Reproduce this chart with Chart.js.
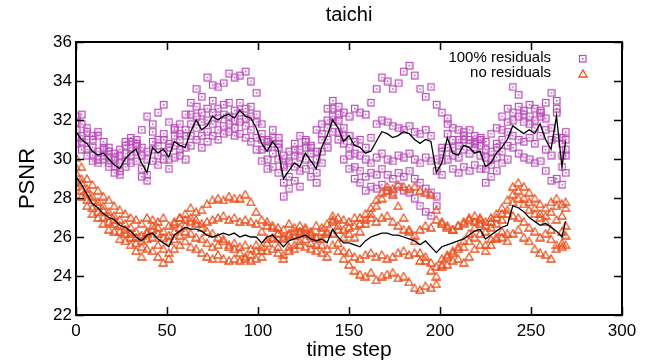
<!DOCTYPE html>
<html>
<head>
<meta charset="utf-8">
<script src="https://cdn.jsdelivr.net/npm/chart.js@4.4.0/dist/chart.umd.min.js"></script>
<style>
  html, body { margin: 0; padding: 0; background: #fff; }
  #wrap { width: 649px; height: 363px; }
</style>
</head>
<body>
<div id="wrap"><canvas id="psnrChart" width="649" height="363"></canvas></div>
<script>
// time steps (every 3rd frame, plus the last one)
const timeSteps = [
  0, 3, 6, 9, 12, 15, 18, 21, 24, 27,
  30, 33, 36, 39, 42, 45, 48, 51, 54, 57,
  60, 63, 66, 69, 72, 75, 78, 81, 84, 87,
  90, 93, 96, 99, 102, 105, 108, 111, 114, 117,
  120, 123, 126, 129, 132, 135, 138, 141, 144, 147,
  150, 153, 156, 159, 162, 165, 168, 171, 174, 177,
  180, 183, 186, 189, 192, 195, 198, 201, 204, 207,
  210, 213, 216, 219, 222, 225, 228, 231, 234, 237,
  240, 243, 246, 249, 252, 255, 258, 261, 264, 267, 269
];

// 100% residuals runs
const resA = [
  31.9, 32.3, 31.6, 31.2, 31.4, 30.9, 30.6, 30.3, 30.5, 30.9,
  31.1, 31.0, 31.5, 32.2, 31.8, 32.4, 32.8, 31.9, 31.5, 31.8,
  32.3, 32.9, 33.6, 33.2, 34.2, 33.8, 33.7, 33.9, 34.4, 34.2,
  34.3, 34.5, 34.0, 33.4, 31.8, 31.0, 30.8, 30.6, 29.7, 29.8,
  30.5, 31.2, 30.9, 30.7, 31.5, 31.8, 32.6, 33.0, 32.7, 32.4,
  32.2, 32.6, 32.4, 32.3, 32.9, 33.6, 34.2, 34.0, 33.6, 33.9,
  34.5, 34.8, 34.3, 33.6, 33.2, 33.7, 32.8, 32.4, 32.1, 31.6,
  31.5, 31.2, 31.0, 30.8, 31.1, 30.9, 31.3, 31.6, 32.2, 32.6,
  33.7, 33.3, 32.5, 32.8, 32.6, 32.4, 32.9, 33.4, 32.6, 31.1, 31.4
];
const resB = [
  31.5, 31.2, 31.0, 30.6, 30.4, 30.5, 30.1, 30.0, 29.8, 30.3,
  30.6, 30.8, 30.2, 30.0, 30.9, 30.7, 31.0, 30.6, 31.2, 31.0,
  31.2, 31.8, 32.2, 31.9, 32.0, 32.4, 32.1, 32.3, 32.2, 32.0,
  32.4, 32.1, 32.2, 31.9, 31.0, 30.6, 31.1, 30.8, 29.6, 29.9,
  30.2, 30.1, 30.6, 30.3, 30.0, 31.0, 31.6, 32.2, 32.0, 31.2,
  31.2, 30.9, 31.0, 30.6, 31.1, 31.8, 32.0, 31.9, 31.7, 31.6,
  31.5, 31.7, 31.4, 31.3, 31.5, 31.2, 30.0, 30.6, 31.8, 31.0,
  31.0, 31.4, 31.5, 30.9, 30.7, 30.1, 30.4, 30.8, 31.0, 31.4,
  32.0, 32.2, 31.9, 31.8, 31.6, 32.2, 31.5, 31.0, 33.0, 30.2, 31.0
];
const resC = [
  30.8, 30.5, 30.2, 29.9, 29.8, 30.0, 29.6, 29.3, 29.2, 29.6,
  29.8, 29.9, 29.1, 28.9, 29.9, 29.7, 30.0, 29.5, 30.1, 30.2,
  30.0, 30.7, 31.0, 30.6, 30.9, 31.2, 31.0, 31.3, 31.4, 31.2,
  31.3, 31.1, 30.9, 30.5, 29.9, 29.5, 29.6, 29.3, 28.1, 28.5,
  28.9, 28.6, 29.5, 29.1, 28.8, 29.8, 30.6, 31.4, 31.0, 30.0,
  29.5, 29.0, 28.8, 28.4, 28.6, 28.5, 28.7, 28.4, 28.3, 28.6,
  28.4, 28.3, 28.0, 27.6, 27.3, 27.1, 27.6, 29.2, 30.0, 29.5,
  29.3, 29.6, 29.4, 29.7, 29.5, 28.8, 29.1, 29.4, 29.8, 30.0,
  30.6, 30.3, 30.1, 30.0, 29.8, 29.9, 29.4, 28.9, 29.0, 28.7, 29.3
];
const resD = [
  31.1, 30.9, 30.5, 30.2, 30.0, 30.2, 29.8, 29.6, 29.4, 29.9,
  30.2, 30.4, 29.5, 29.2, 30.5, 30.2, 30.4, 30.0, 30.7, 30.5,
  30.6, 31.2, 31.6, 31.2, 31.4, 31.8, 31.5, 31.7, 31.8, 31.6,
  31.9, 31.7, 31.5, 31.1, 30.5, 30.0, 30.3, 30.0, 28.8, 29.1,
  29.6, 29.4, 30.0, 29.7, 29.3, 30.4, 31.0, 31.9, 31.4, 30.8,
  30.6, 30.3, 30.2, 30.0, 29.8, 30.1, 30.3, 30.0, 29.9, 30.2,
  30.1, 30.3, 30.0, 29.8, 30.1, 29.9, 29.4, 29.9, 30.6, 30.2,
  30.1, 30.5, 30.3, 30.6, 30.2, 29.5, 29.7, 30.1, 30.4, 30.7,
  31.2, 31.0, 30.9, 31.1, 30.8, 31.2, 30.5, 30.2, 31.1, 29.6, 30.2
];
const resE = [
  32.2, 31.8, 31.4, 31.0, 31.2, 30.6, 30.4, 30.1, 30.2, 30.7,
  30.9, 30.7, 30.6, 30.4, 31.4, 31.0, 31.3, 30.8, 31.6, 31.3,
  31.5, 32.3, 32.7, 32.4, 32.6, 33.0, 32.6, 32.8, 32.9, 32.5,
  32.9, 32.6, 32.7, 32.3, 31.3, 30.9, 31.5, 31.1, 30.2, 30.4,
  30.8, 30.5, 31.0, 30.6, 30.4, 31.3, 32.0, 32.6, 32.3, 31.6,
  30.2, 29.6, 29.4, 29.1, 29.3, 29.2, 29.5, 29.2, 29.0, 29.3,
  29.1, 29.4, 29.0, 28.8, 28.5, 28.3, 28.1, 30.4, 31.3, 30.6,
  30.7, 31.0, 30.8, 31.2, 31.0, 30.5, 30.0, 30.6, 31.5, 31.9,
  32.4, 32.7, 32.3, 32.2, 32.0, 32.5, 32.1, 31.6, 32.4, 30.8, 30.5
];
const resMean = [
  31.4, 31.0, 30.8, 30.4, 30.2, 30.3, 30.0, 29.7, 29.5, 30.0,
  30.3, 30.5, 29.8, 29.3, 30.6, 30.3, 30.5, 30.1, 30.9, 30.7,
  30.6, 31.4, 32.0, 31.5, 31.7, 32.2, 32.0, 32.2, 32.3, 32.1,
  32.5, 32.2, 32.1, 31.6, 30.8, 30.4, 30.9, 30.5, 29.0, 29.4,
  29.8, 29.6, 30.3, 29.9, 29.5, 30.6, 31.2, 32.0, 31.6, 30.9,
  31.2, 30.7, 30.6, 30.3, 30.4, 30.9, 31.4, 31.3, 31.1, 31.2,
  31.4, 31.3, 31.0, 30.8, 31.0, 30.9, 29.3, 29.8, 31.1, 30.3,
  30.2, 30.7, 30.6, 30.3, 30.4, 29.6, 29.8, 30.3, 30.6, 31.0,
  31.7, 31.5, 31.3, 31.5, 31.3, 31.8, 31.0, 30.5, 32.2, 29.6, 30.9
];

// no residuals runs
const noResA = [
  30.1, 29.6, 29.0, 28.7, 28.4, 28.1, 27.9, 27.6, 27.4, 27.2,
  27.0, 26.9, 26.7, 27.0, 26.9, 26.8, 27.0, 26.6, 26.7, 27.0,
  27.2, 27.5, 27.3, 27.4, 27.7, 27.9, 28.0, 27.9, 28.1, 28.0,
  28.0, 28.2, 27.8, 27.3, 26.9, 26.8, 26.6, 26.5, 26.4, 26.7,
  26.5, 26.6, 26.4, 26.3, 26.6, 26.5, 26.7, 27.1, 27.0, 26.9,
  26.8, 27.0, 27.0, 27.2, 27.5, 27.9, 28.3, 28.6, 28.5, 28.7,
  28.6, 28.5, 28.6, 28.4, 28.3, 28.2, 27.4, 26.8, 26.6, 26.4,
  26.6, 26.7, 26.9, 26.8, 27.0, 26.8, 27.0, 27.2, 27.5, 27.9,
  28.6, 28.8, 28.6, 28.3, 28.0, 27.7, 27.5, 27.8, 28.0, 27.7, 27.8
];
const noResB = [
  29.6, 29.0, 28.5, 28.1, 27.8, 27.6, 27.3, 27.1, 26.9, 26.7,
  26.5, 26.3, 26.1, 26.3, 26.4, 26.2, 26.0, 25.8, 26.3, 26.5,
  26.6, 26.8, 26.9, 26.7, 26.8, 26.9, 27.0, 27.1, 26.9, 27.0,
  26.8, 26.9, 26.8, 26.7, 26.3, 26.6, 26.5, 26.2, 26.0, 26.2,
  26.1, 26.3, 26.2, 26.1, 26.0, 26.3, 26.2, 26.8, 26.6, 26.4,
  26.5, 26.6, 26.7, 26.9, 27.0, 26.8, 27.0, 27.1, 26.8, 26.6,
  26.4, 26.3, 26.1, 26.4, 26.6, 26.5, 26.9, 26.7, 26.5, 26.4,
  26.6, 26.8, 27.0, 27.1, 26.9, 26.6, 26.8, 27.0, 27.2, 27.4,
  27.8, 28.0, 27.7, 27.4, 27.2, 27.0, 27.1, 27.3, 27.6, 27.1, 27.5
];
const noResC = [
  28.9, 28.4, 27.9, 27.5, 27.3, 27.0, 26.8, 26.7, 26.3, 26.2,
  26.0, 25.7, 25.5, 25.9, 26.0, 25.6, 25.4, 25.2, 25.9, 26.1,
  26.3, 26.2, 26.0, 25.9, 25.7, 25.5, 25.6, 25.8, 25.5, 25.7,
  25.5, 25.6, 25.4, 25.6, 25.3, 25.7, 25.9, 25.5, 25.1, 25.5,
  25.6, 25.8, 25.9, 25.7, 25.6, 25.6, 25.4, 26.2, 25.7, 25.3,
  25.2, 25.0, 24.9, 25.1, 25.2, 25.0, 25.1, 24.9, 25.0, 25.2,
  25.3, 25.1, 25.2, 24.8, 25.0, 24.7, 24.5, 24.9, 25.1, 25.2,
  25.4, 25.5, 25.8, 26.0, 26.2, 25.6, 25.9, 26.0, 26.3, 26.2,
  27.1, 27.0, 26.8, 26.5, 26.3, 26.0, 26.2, 25.9, 25.6, 25.7, 26.1
];
const noResD = [
  28.6, 28.1, 27.6, 27.2, 27.0, 26.7, 26.4, 26.3, 25.9, 25.8,
  25.6, 25.3, 25.0, 25.4, 25.3, 25.0, 24.7, 24.9, 25.4, 25.6,
  25.8, 25.5, 25.4, 25.2, 25.0, 24.9, 25.1, 24.9, 24.8, 24.9,
  24.8, 24.9, 24.8, 24.9, 25.0, 25.3, 25.4, 25.2, 24.9, 25.3,
  25.4, 25.6, 25.5, 25.4, 25.3, 25.2, 25.0, 25.6, 25.3, 24.9,
  24.6, 24.3, 24.1, 24.0, 24.2, 23.8, 24.0, 24.1, 24.2, 23.9,
  24.0, 23.7, 23.4, 23.3, 23.5, 23.4, 23.6, 24.5, 24.6, 24.8,
  24.9, 24.7, 25.0, 25.4, 25.6, 25.3, 25.6, 25.9, 26.0, 25.8,
  26.2, 26.4, 26.0, 25.8, 25.4, 25.2, 25.1, 24.9, 25.4, 25.5, 25.6
];
const noResE = [
  29.3, 28.8, 28.3, 27.9, 27.6, 27.4, 27.1, 26.9, 26.6, 26.4,
  26.2, 26.0, 25.8, 26.2, 26.6, 26.5, 26.3, 26.1, 26.8, 27.0,
  26.9, 27.0, 26.7, 26.5, 26.3, 26.2, 26.0, 25.9, 25.6, 25.4,
  25.2, 25.0, 25.1, 25.3, 25.5, 25.9, 26.0, 26.2, 25.9, 26.1,
  26.3, 26.2, 26.5, 26.2, 26.0, 25.9, 26.3, 26.9, 26.4, 26.0,
  26.2, 26.0, 26.3, 26.7, 27.2, 27.6, 28.0, 28.4, 28.2, 27.6,
  27.0, 26.4, 25.8, 25.2, 24.8, 24.3, 24.0, 24.6, 25.0, 25.3,
  25.5, 25.8, 26.2, 26.5, 26.7, 26.3, 26.5, 26.7, 26.9, 27.2,
  28.2, 28.4, 28.0, 27.8, 27.5, 27.2, 26.8, 26.4, 26.9, 26.3, 26.6
];
const noResMean = [
  29.1, 28.7, 28.2, 27.7, 27.5, 27.2, 27.0, 26.9, 26.6, 26.5,
  26.3, 26.0, 25.8, 26.1, 26.2, 25.9, 25.7, 25.5, 26.1, 26.3,
  26.5, 26.4, 26.4, 26.3, 26.1, 26.0, 26.1, 26.2, 26.1, 26.2,
  26.0, 26.1, 26.0, 26.0, 25.7, 26.0, 26.1, 25.8, 25.5, 25.8,
  25.9, 26.0, 26.1, 25.9, 25.8, 25.9, 25.7, 26.4, 26.0, 25.7,
  25.7, 25.6, 25.5, 25.8, 26.0, 26.1, 26.2, 26.2, 26.1, 26.1,
  26.0, 25.9, 25.8, 25.6, 25.8, 25.5, 25.2, 25.5, 25.6, 25.7,
  25.8, 25.9, 26.1, 26.3, 26.4, 25.9, 26.1, 26.3, 26.5, 26.6,
  27.6, 27.5, 27.3, 27.0, 26.8, 26.6, 26.7, 26.5, 26.3, 26.0, 26.8
];

const xTicks = [0, 50, 100, 150, 200, 250, 300];
const yTicks = [22, 24, 26, 28, 30, 32, 34, 36];

const purple = '#b84cb8';
const orange = '#ea5220';
const fontFamily = '"Liberation Sans", Arial, Helvetica, sans-serif';

// gnuplot-like hollow markers
function squareMarker(color) {
    const c = document.createElement('canvas');
    c.width = 9; c.height = 9;
    const g = c.getContext('2d');
    g.strokeStyle = color;
    g.lineWidth = 1.2;
    g.strokeRect(1.5, 1.5, 6.5, 6.5);
    g.fillStyle = color;
    g.fillRect(4, 4, 1.5, 1.5);
    return c;
}

function triangleMarker(color) {
    const c = document.createElement('canvas');
    c.width = 10; c.height = 9;
    const g = c.getContext('2d');
    g.strokeStyle = color;
    g.lineWidth = 1.3;
    g.beginPath();
    g.moveTo(5, 1);
    g.lineTo(9, 8);
    g.lineTo(1, 8);
    g.closePath();
    g.stroke();
    return c;
}

const sqImg = squareMarker(purple);
const triImg = triangleMarker(orange);

function toPoints(values) {
    return values.map((v, i) => ({ x: timeSteps[i], y: v }));
}

function runSet(values, img, order) {
    return {
        data: toPoints(values),
        pointStyle: img,
        pointRadius: 4,
        showLine: false,
        order: order
    };
}

function meanSet(values) {
    return {
        data: toPoints(values),
        showLine: true,
        borderColor: '#000',
        borderWidth: 1.3,
        pointRadius: 0,
        order: 0
    };
}

// frame with inward ticks on all sides (drawn on a layer, then copied in)
function frameLayer(chart) {
    const a = chart.chartArea;
    const xs = chart.scales.x;
    const ys = chart.scales.y;
    const layer = document.createElement('canvas');
    layer.width = chart.width;
    layer.height = chart.height;
    const g = layer.getContext('2d');
    g.strokeStyle = '#000';
    g.lineWidth = 1.5;
    g.beginPath();
    xTicks.forEach(v => {
        const px = Math.round(xs.getPixelForValue(v)) + 0.5;
        g.moveTo(px, a.bottom); g.lineTo(px, a.bottom - 8);
        g.moveTo(px, a.top); g.lineTo(px, a.top + 8);
    });
    yTicks.forEach(v => {
        const py = Math.round(ys.getPixelForValue(v)) + 0.5;
        g.moveTo(a.left, py); g.lineTo(a.left + 8, py);
        g.moveTo(a.right, py); g.lineTo(a.right - 8, py);
    });
    g.stroke();
    g.lineWidth = 2;
    g.strokeRect(a.left, a.top, a.right - a.left, a.bottom - a.top);
    return layer;
}

// title and key, gnuplot style
const gnuplotFrame = {
    id: 'gnuplotFrame',
    afterDraw(chart) {
        const c = chart.ctx;
        const a = chart.chartArea;
        c.save();
        c.drawImage(frameLayer(chart), 0, 0);

        c.fillStyle = '#000';
        c.font = '20px ' + fontFamily;
        c.textAlign = 'center';
        c.textBaseline = 'middle';
        c.fillText('taichi', (a.left + a.right) / 2, 15);

        c.font = '15px ' + fontFamily;
        c.textAlign = 'right';
        c.fillText('100% residuals', 551, 58);
        c.fillText('no residuals', 551, 73);
        c.drawImage(sqImg, 578, 54);
        c.drawImage(triImg, 578, 69);
        c.restore();
    }
};

const ctx = document.getElementById('psnrChart').getContext('2d');
new Chart(ctx, {
    type: 'scatter',
    data: {
        datasets: [
            runSet(resA, sqImg, 2),
            runSet(resB, sqImg, 2),
            runSet(resC, sqImg, 2),
            runSet(resD, sqImg, 2),
            runSet(resE, sqImg, 2),
            runSet(noResA, triImg, 1),
            runSet(noResB, triImg, 1),
            runSet(noResC, triImg, 1),
            runSet(noResD, triImg, 1),
            runSet(noResE, triImg, 1),
            meanSet(resMean),
            meanSet(noResMean)
        ]
    },
    options: {
        responsive: false,
        animation: false,
        devicePixelRatio: 1,
        layout: { padding: { top: 42, right: 27, left: 0, bottom: 0 } },
        plugins: {
            legend: { display: false },
            tooltip: { enabled: false }
        },
        scales: {
            x: {
                type: 'linear',
                min: 0,
                max: 300,
                afterFit: s => { s.height = 48; },
                grid: { display: false, drawTicks: false },
                border: { display: false },
                ticks: {
                    stepSize: 50,
                    padding: 6,
                    color: '#000',
                    font: { family: fontFamily, size: 17 }
                },
                title: {
                    display: true,
                    text: 'time step',
                    color: '#000',
                    padding: { top: 0, bottom: 0 },
                    font: { family: fontFamily, size: 21 }
                }
            },
            y: {
                min: 22,
                max: 36,
                afterFit: s => { s.width = 76; },
                grid: { display: false, drawTicks: false },
                border: { display: false },
                ticks: {
                    stepSize: 2,
                    padding: 4,
                    color: '#000',
                    font: { family: fontFamily, size: 17 }
                },
                title: {
                    display: true,
                    text: 'PSNR',
                    color: '#000',
                    padding: { top: 15, bottom: 0 },
                    font: { family: fontFamily, size: 22 }
                }
            }
        }
    },
    plugins: [gnuplotFrame]
});
</script>
</body>
</html>
